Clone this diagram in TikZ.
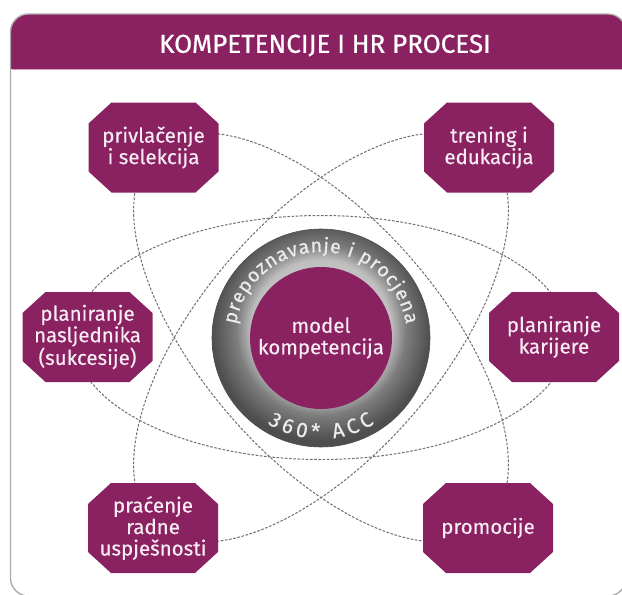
\documentclass[tikz,border=0pt]{standalone}
\usepackage{fontspec}
\setmainfont{Fira Sans}
\usetikzlibrary{decorations.text}
\definecolor{mag}{RGB}{138,34,98}
\definecolor{boxtext}{RGB}{248,236,243}
\definecolor{ringtext}{RGB}{236,236,236}
\definecolor{framegray}{RGB}{170,170,170}
\definecolor{pinkline}{RGB}{215,160,195}
\definecolor{dashgray}{RGB}{110,110,110}
\definecolor{ringA}{RGB}{230,230,230}
\definecolor{ringB}{RGB}{190,190,190}
\definecolor{ringC}{RGB}{125,125,125}
\definecolor{ringD}{RGB}{78,78,78}
\pgfdeclareradialshading{ringsh}{\pgfpoint{0bp}{3bp}}{color(0bp)=(ringA); color(16bp)=(ringB); color(19.5bp)=(ringC); color(25bp)=(ringD); color(50bp)=(ringD)}
\newcommand\myboxfont{\fontsize{20.5pt}{21.5pt}\selectfont\addfontfeature{FakeBold=0.3}}
\newcommand\mytitlefont{\fontsize{26pt}{28pt}\selectfont\addfontfeature{FakeBold=0.6}}
\newcommand\myringfont{\fontsize{19.5pt}{21pt}\selectfont\addfontfeature{FakeBold=0.4}}
\newcommand\myaccfont{\fontsize{21pt}{23pt}\selectfont\addfontfeature{FakeBold=0.4}}
\tikzset{
  dashline/.style={draw=dashgray, line width=1pt, dash pattern=on 2.6pt off 1.6pt},
  octo/.style={minimum width=130pt, minimum height=90pt, inner sep=0pt,
    text=boxtext, align=center, font=\myboxfont,
    path picture={\fill[mag]
      ([xshift=23pt]path picture bounding box.north west) --
      ([xshift=-23pt]path picture bounding box.north east) --
      ([yshift=-21pt]path picture bounding box.north east) --
      ([yshift=21pt]path picture bounding box.south east) --
      ([xshift=-23pt]path picture bounding box.south east) --
      ([xshift=23pt]path picture bounding box.south west) --
      ([yshift=21pt]path picture bounding box.south west) --
      ([yshift=-21pt]path picture bounding box.north west) -- cycle;}},
  ringtextpath/.style 2 args={decorate, decoration={text along path, text={|#1\color{ringtext}|#2}, text align=fit to path}}
}
\begin{document}
\begin{tikzpicture}[x=1pt,y=-1pt]
\useasboundingbox (0,0) rectangle (622,595);
\fill[white] (0,0) rectangle (622,595);
% frame and header
\begin{scope}
  \clip[rounded corners=18pt] (10.5,14) rectangle (626,596);
  \fill[mag] (0,0) rectangle (630,68.5);
\end{scope}
\draw[pinkline, line width=1.4pt] (11.5,69.6) -- (622,69.6);
\draw[framegray, line width=1.3pt, rounded corners=18pt] (10.5,14) rectangle (626,596);
\node[font=\mytitlefont, text=white, inner sep=0pt] (title) at (325,45.5) {KOMPETENCIJE I HR PROCESI};
% orbits
\coordinate (C) at (321,337.5);
\draw[dashline] (C) ellipse [x radius=247, y radius=122];
\draw[dashline, rotate around={-49:(C)}] (C) ellipse [x radius=250, y radius=120];
\draw[dashline, rotate around={49:(C)}] (C) ellipse [x radius=250, y radius=120];
% process boxes
\node[octo] (privlacenje) at (153.5,147.5) {privlačenje\\i selekcija};
\node[octo] (trening) at (489,147.5) {trening i\\edukacija};
\node[octo] (nasljednici) at (87.5,337) {planiranje\\nasljednika\\(sukcesije)};
\node[octo] (karijera) at (554,337) {planiranje\\karijere};
\node[octo] (pracenje) at (153,528) {praćenje\\radne\\uspješnosti};
\node[octo] (promocije) at (488,528) {promocije};
% centre
\node[circle, minimum size=218pt, inner sep=0pt, shade, shading=ringsh, draw=ringD, line width=0.6pt] (ring) at (321,338) {};
\node[circle, minimum size=142pt, inner sep=0pt, fill=mag, text=boxtext, align=center, font=\myboxfont] (core) at (321,338) {model\\kompetencija};
\path[ringtextpath={\myringfont}{prepoznavanje i procjena}] (ring.center) ++(-171:86) arc[start angle=-171, end angle=-9, radius=86];
\path[ringtextpath={\myaccfont}{360* ACC}] (ring.center) ++(122:101) arc[start angle=122, end angle=58, radius=101];
\end{tikzpicture}
\end{document}
